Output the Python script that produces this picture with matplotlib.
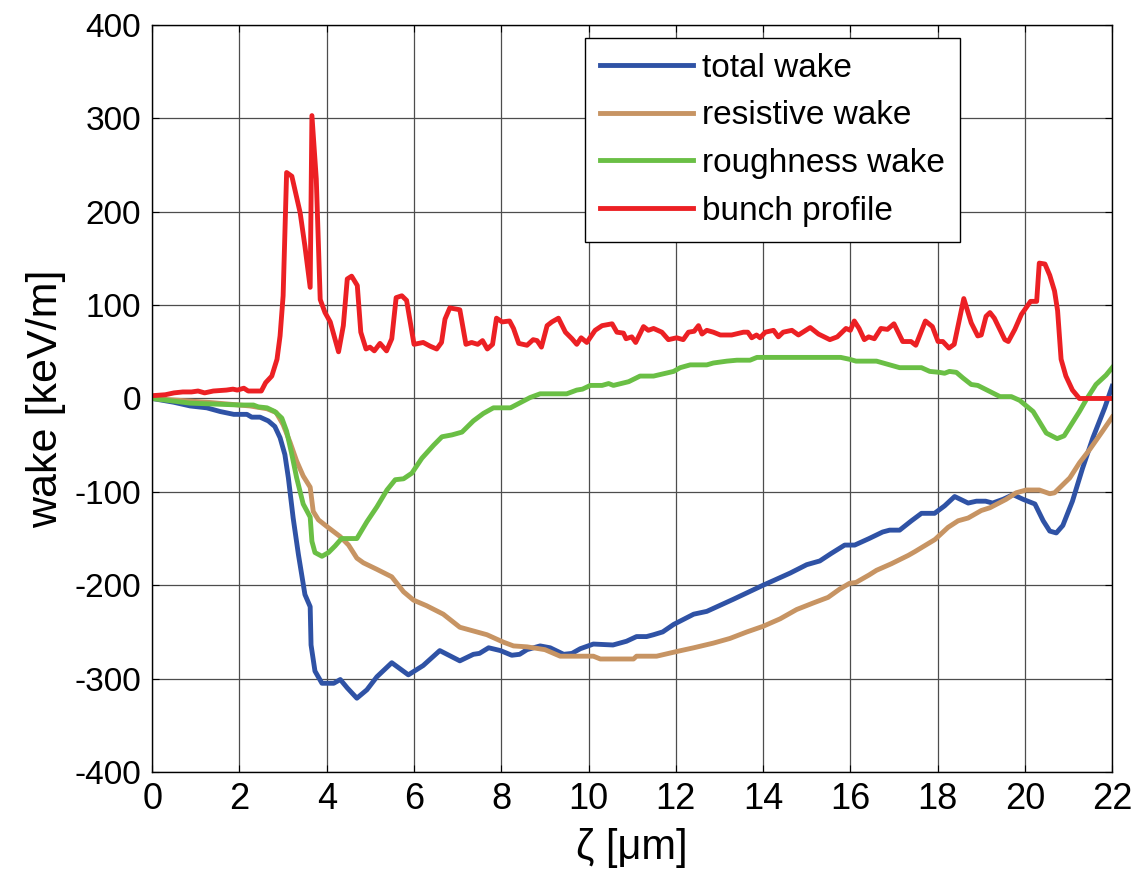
import numpy as np
import matplotlib
matplotlib.use('Agg')
import matplotlib.pyplot as plt

plt.rcParams['font.family'] = ['Liberation Sans', 'DejaVu Sans']
plt.rcParams['axes.unicode_minus'] = False

# total wake
x_total = [0, 0.49, 0.87, 1.25, 1.56, 1.87, 2.17, 2.28, 2.47, 2.66, 2.81, 2.93, 3.04, 3.12, 3.23,
           3.35, 3.5, 3.62, 3.64, 3.73, 3.89, 4.16, 4.31, 4.47, 4.69, 4.92, 5.15, 5.49, 5.87, 6.21,
           6.59, 7.05, 7.36, 7.5, 7.71, 7.98, 8.24, 8.42, 8.59, 8.89, 9.12, 9.43, 9.62, 9.81, 10.11,
           10.56, 10.87, 11.1, 11.33, 11.49, 11.7, 11.95, 12.41, 12.71, 13.32, 14.0, 14.24, 14.62,
           15.0, 15.3, 15.56, 15.87, 16.1, 16.43, 16.74, 16.9, 17.13, 17.4, 17.63, 17.93, 18.16,
           18.39, 18.7, 18.89, 19.1, 19.26, 19.5, 19.73, 19.96, 20.23, 20.42, 20.57, 20.72, 20.87,
           21.09, 21.32, 21.56, 21.83, 22.0]
y_total = [0, -4, -8, -10, -14, -17, -17, -20, -20, -24, -30, -42, -60, -85, -128,
           -167, -210, -223, -264, -292, -305, -305, -301, -310, -321, -312, -298, -283, -296, -286,
           -270, -281, -274, -273, -267, -270, -275, -274, -269, -265, -267, -274, -273, -268, -263,
           -264, -260, -255, -255, -253, -250, -242, -231, -228, -215, -200, -195, -187,
           -178, -174, -166, -157, -157, -150, -143, -141, -141, -131, -123, -123, -115,
           -105, -112, -110, -110, -112, -108, -103, -108, -113, -131, -142, -144, -136,
           -110, -75, -42, -10, 13]

# resistive wake
x_resist = [0, 1.25, 2.24, 2.63, 2.84, 3.0, 3.16, 3.31, 3.46, 3.62, 3.69, 3.81, 4.0, 4.31, 4.5,
            4.69, 4.84, 5.15, 5.49, 5.76, 5.99, 6.29, 6.67, 7.05, 7.36, 7.67, 8.05, 8.28, 8.59,
            9.0, 9.35, 10.11, 10.27, 11.03, 11.1, 11.56, 12.02, 12.41, 12.86, 13.24, 13.63, 14.0,
            14.39, 14.77, 15.15, 15.49, 15.76, 15.98, 16.13, 16.43, 16.6, 16.94, 17.33, 17.48,
            17.94, 18.24, 18.47, 18.7, 19.0, 19.2, 19.57, 19.8, 20.03, 20.33, 20.57, 20.68, 21.03,
            21.25, 21.48, 21.78, 22.0]
y_resist = [0, -4, -8, -11, -15, -28, -47, -67, -83, -95, -121, -130, -137, -148, -157,
            -171, -176, -183, -191, -207, -216, -222, -231, -245, -249, -253, -261, -265, -266,
            -269, -276, -276, -279, -279, -276, -276, -271, -267, -262, -257, -250, -244,
            -236, -226, -219, -213, -204, -198, -197, -189, -184, -177, -168, -164,
            -151, -138, -131, -128, -120, -117, -108, -101, -98, -98, -102, -101, -85,
            -69, -55, -35, -20]

# roughness wake
x_rough = [0, 0.87, 2.01, 2.32, 2.43, 2.63, 2.81, 2.97, 3.08, 3.2, 3.31, 3.46, 3.62, 3.66, 3.73,
           3.89, 4.04, 4.19, 4.34, 4.69, 4.92, 5.15, 5.38, 5.57, 5.76, 5.95, 6.18, 6.45, 6.64,
           6.87, 7.1, 7.36, 7.59, 7.82, 8.21, 8.66, 8.89, 9.5, 9.73, 9.86, 10.04, 10.31, 10.46,
           10.57, 10.92, 11.18, 11.49, 11.95, 12.1, 12.33, 12.71, 12.86, 13.17, 13.4, 13.7, 13.86,
           15.78, 15.98, 16.13, 16.6, 17.13, 17.63, 17.82, 18.04, 18.16, 18.27, 18.43, 18.58,
           18.77, 18.92, 19.43, 19.69, 19.88, 20.19, 20.49, 20.74, 20.9, 21.25, 21.41, 21.63,
           21.86, 22.0]
y_rough = [0, -5, -7, -7, -9, -10, -14, -21, -35, -60, -85, -113, -127, -153, -165,
           -169, -165, -158, -150, -150, -132, -116, -98, -87, -86, -80, -64, -50, -41,
           -39, -36, -24, -16, -10, -10, 1, 5, 5, 9, 10, 14, 14, 16,
           14, 18, 24, 24, 29, 33, 36, 36, 38, 40, 41, 41, 44,
           44, 42, 40, 40, 33, 33, 29, 28, 27, 29, 28, 22,
           15, 14, 2, 2, -2, -14, -37, -43, -40, -14, -1, 15,
           25, 33]

# bunch profile
x_bunch = [0, 0.3, 0.5, 0.7, 0.9, 1.05, 1.2, 1.4, 1.7, 1.85, 1.95, 2.1, 2.2, 2.5, 2.6, 2.74, 2.86,
           2.93, 3.0, 3.08, 3.2, 3.39, 3.5, 3.62, 3.66, 3.76, 3.85, 3.96, 4.08, 4.27, 4.38, 4.47,
           4.57, 4.70, 4.78, 4.90, 4.99, 5.09, 5.22, 5.37, 5.49, 5.59, 5.72, 5.83, 6.0, 6.21, 6.37,
           6.52, 6.63, 6.71, 6.82, 7.05, 7.19, 7.32, 7.46, 7.57, 7.68, 7.80, 7.89, 8.02, 8.19,
           8.28, 8.40, 8.59, 8.73, 8.82, 8.92, 9.05, 9.16, 9.31, 9.47, 9.62, 9.73, 9.83, 9.96,
           10.15, 10.31, 10.54, 10.65, 10.8, 10.86, 10.99, 11.08, 11.26, 11.37, 11.49, 11.68,
           11.83, 12.02, 12.17, 12.29, 12.42, 12.52, 12.60, 12.71, 12.86, 13.02, 13.28, 13.55,
           13.65, 13.74, 13.85, 13.93, 14.05, 14.24, 14.35, 14.46, 14.66, 14.81, 15.08, 15.27,
           15.53, 15.7, 15.90, 16.0, 16.09, 16.2, 16.32, 16.42, 16.55, 16.7, 16.85, 17.0, 17.2,
           17.39, 17.5, 17.72, 17.88, 18.01, 18.12, 18.26, 18.38, 18.6, 18.77, 18.92, 19.0,
           19.11, 19.2, 19.3, 19.54, 19.62, 19.77, 19.92, 20.13, 20.27, 20.33, 20.46, 20.57,
           20.68, 20.75, 20.83, 20.94, 21.09, 21.25, 22.0]
y_bunch = [3, 4, 6, 7, 7, 8, 6, 8, 9, 10, 9, 11, 8, 8, 17, 24, 42,
           67, 110, 242, 238, 199, 163, 119, 303, 235, 106, 92, 82, 50, 78, 128,
           131, 121, 71, 53, 55, 51, 59, 51, 64, 108, 110, 105, 58, 60, 56,
           53, 60, 85, 97, 95, 58, 60, 58, 62, 53, 58, 86, 82, 83,
           75, 59, 57, 63, 62, 55, 78, 82, 86, 71, 64, 58, 65, 60,
           73, 78, 80, 71, 70, 64, 66, 60, 77, 73, 75, 71,
           63, 65, 63, 71, 72, 78, 69, 73, 71, 68, 68, 71,
           71, 65, 68, 65, 71, 73, 66, 71, 73, 68, 76, 69,
           63, 66, 75, 73, 83, 75, 63, 66, 64, 75, 74, 80, 61,
           61, 57, 83, 77, 61, 61, 54, 58, 107, 81, 67, 68,
           88, 92, 86, 63, 61, 74, 90, 104, 104, 145, 144, 132,
           115, 94, 42, 24, 9, 0, 0]

labels = ['total wake', 'resistive wake', 'roughness wake', 'bunch profile']
colors = ['#2F52A5', '#C79463', '#6ABF45', '#EC2024']

fig = plt.figure(figsize=(11.36, 8.71), dpi=100)
ax = fig.add_axes([0.134, 0.1137, 0.845, 0.8576])

series = [(x_total, y_total), (x_resist, y_resist), (x_rough, y_rough), (x_bunch, y_bunch)]
for (xs, ys), lab, col in zip(series, labels, colors):
    ax.plot(xs, ys, color=col, lw=3.5, label=lab, solid_joinstyle='round')

ax.set_xlim(0, 22)
ax.set_ylim(-400, 400)
ax.set_xticks(np.arange(0, 23, 2))
ax.set_yticks(np.arange(-400, 401, 100))
ax.grid(True, color='0.3', lw=0.9)
ax.set_axisbelow(True)
ax.tick_params(direction='in', length=5, top=True, right=True, colors='black')
ax.tick_params(axis='x', labelsize=26, pad=7)
ax.tick_params(axis='y', labelsize=24, pad=8)
for sp in ax.spines.values():
    sp.set_linewidth(1.0)
    sp.set_color('black')

ax.set_xlabel('ζ [μm]', fontsize=30, labelpad=8)
ax.set_ylabel('wake [keV/m]', fontsize=31, labelpad=6)

leg = ax.legend(loc='upper left', bbox_to_anchor=(0.451, 0.983), fontsize=24,
                frameon=True, fancybox=False, edgecolor='black', framealpha=1,
                handlelength=2.8, handletextpad=0.25, labelspacing=0.5,
                borderpad=0.45, borderaxespad=0)
leg.get_frame().set_linewidth(1.0)

fig.savefig('out.png', dpi=100)
